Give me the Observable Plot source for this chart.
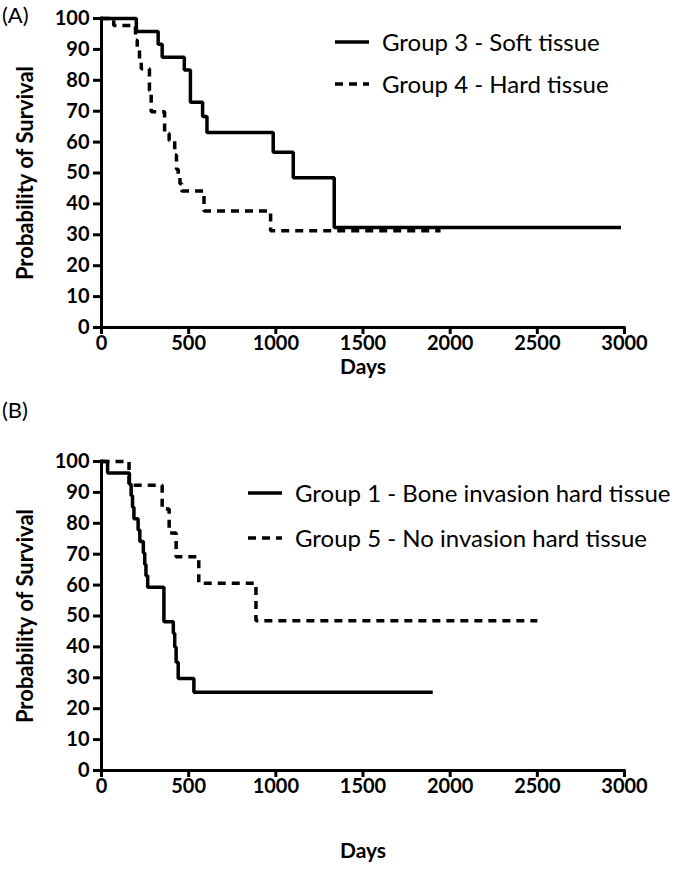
<!DOCTYPE html>
<html><head><meta charset="utf-8">
<script src="https://cdn.jsdelivr.net/npm/d3@7"></script>
<script src="https://cdn.jsdelivr.net/npm/@observablehq/plot@0.6"></script>
<style>
body{margin:0;background:#fff;}
#wrap{position:relative;width:684px;height:883px;background:#fff;font-family:Lato,"Open Sans",sans-serif;color:#000;overflow:hidden;}
.panel{position:absolute;left:0;}
.tag{position:absolute;left:2px;font-size:22px;line-height:1;}
.leg{position:absolute;font-size:24px;line-height:1;white-space:nowrap;display:flex;align-items:center;}
.leg svg{margin-right:13px;}
</style></head>
<body><div id="wrap"></div>
<script>
// ---- data ----
const xTicks = [0, 500, 1000, 1500, 2000, 2500, 3000];
const yTicks = [0, 10, 20, 30, 40, 50, 60, 70, 80, 90, 100];

// Panel A – Group 3 (soft tissue)
const g3Days = [0, 200, 325, 348, 475, 510, 580, 605, 985, 1100, 1335, 2980];
const g3Surv = [100, 95.8, 91.7, 87.5, 83.3, 72.9, 68.3, 63.1, 56.7, 48.5, 32.4, 32.4];
// Panel A – Group 4 (hard tissue)
const g4Days = [0, 70, 195, 205, 218, 228, 275, 285, 362, 388, 420, 430, 440, 450, 460, 588, 970, 1945];
const g4Surv = [100, 97.7, 93.0, 90.7, 86.0, 83.7, 76.7, 69.8, 62.8, 60.5, 55.8, 51.2, 48.8, 46.5, 44.2, 37.7, 31.3, 31.3];
// Panel B – Group 1 (bone invasion hard tissue)
const g1Days = [0, 35, 160, 170, 178, 186, 210, 220, 240, 248, 255, 265, 358, 412, 420, 428, 440, 530, 1900];
const g1Surv = [100, 96.3, 92.6, 88.9, 85.2, 81.5, 77.8, 74.1, 70.4, 66.7, 63.0, 59.3, 48.1, 44.4, 40.0, 35.0, 29.8, 25.3, 25.3];
// Panel B – Group 5 (no invasion hard tissue)
const g5Days = [0, 158, 348, 388, 428, 558, 886, 2500];
const g5Surv = [100, 92.3, 84.6, 76.9, 69.2, 60.6, 48.5, 48.5];

const panels = [
  {tag: "(A)", svgTop: 0, svgHeight: 400, mTop: 18, mBottom: 73, daysDy: 46, tagTop: 4,
   series: [
     {name: "Group 3 - Soft tissue", days: g3Days, surv: g3Surv, dash: null},
     {name: "Group 4 - Hard tissue", days: g4Days, surv: g4Surv, dash: "8,6"}],
   legLeft: 335, legRows: [42, 84]},
  {tag: "(B)", svgTop: 420, svgHeight: 463, mTop: 41, mBottom: 113, daysDy: 87, tagTop: 399,
   series: [
     {name: "Group 1 - Bone invasion hard tissue", days: g1Days, surv: g1Surv, dash: null},
     {name: "Group 5 - No invasion hard tissue", days: g5Days, surv: g5Surv, dash: "8,6"}],
   legLeft: 248, legRows: [493, 538]}
];

const wrap = document.getElementById("wrap");
const LW = 3.5;
const FONT = "Lato, 'Open Sans', sans-serif";

for (const p of panels) {
  const lineMarks = p.series.map(s => {
    const rows = s.days.map((d, i) => ({day: d, surv: s.surv[i]}));
    return Plot.line(rows, {x: "day", y: "surv", curve: "step-after", stroke: "#000",
      strokeWidth: LW, strokeDasharray: s.dash, strokeLinejoin: "miter", strokeLinecap: "butt"});
  });
  const chart = Plot.plot({
    width: 684, height: p.svgHeight,
    marginLeft: 101, marginRight: 60, marginTop: p.mTop, marginBottom: p.mBottom,
    style: {fontFamily: FONT, fontSize: "20px", fontWeight: "bold", color: "#000", background: "#fff", overflow: "visible"},
    x: {domain: [0, 3000]},
    y: {domain: [0, 100]},
    marks: [
      Plot.axisX({ticks: xTicks, tickFormat: d => String(d), tickSize: 7, tickPadding: 1, strokeWidth: 3, label: null, fontWeight: "bold", fontSize: 20}),
      Plot.axisY({ticks: yTicks, tickFormat: d => String(d), tickSize: 8, tickPadding: 4, strokeWidth: 3, label: null, fontWeight: "bold", fontSize: 20}),
      Plot.ruleY([0], {strokeWidth: 3, strokeLinecap: "square"}),
      Plot.ruleX([0], {strokeWidth: 3, strokeLinecap: "square"}),
      ...lineMarks,
      Plot.text(["Days"], {text: d => d, frameAnchor: "bottom", dy: p.daysDy, fontSize: 21, fontWeight: "bold"}),
      Plot.text(["Probability of Survival"], {text: d => d, frameAnchor: "left", textAnchor: "middle", dx: -76, rotate: -90, fontSize: 22, fontWeight: "bold"})
    ]
  });
  chart.classList.add("panel");
  chart.style.top = p.svgTop + "px";
  wrap.appendChild(chart);

  const tag = document.createElement("div");
  tag.className = "tag";
  tag.style.top = p.tagTop + "px";
  tag.textContent = p.tag;
  wrap.appendChild(tag);

  p.series.forEach((s, i) => {
    const leg = document.createElement("div");
    leg.className = "leg";
    leg.style.left = p.legLeft + "px";
    leg.style.top = (p.legRows[i] - 14) + "px";
    leg.style.height = "28px";
    const ns = "http://www.w3.org/2000/svg";
    const svg = document.createElementNS(ns, "svg");
    svg.setAttribute("width", 34); svg.setAttribute("height", 28);
    const ln = document.createElementNS(ns, "line");
    ln.setAttribute("x1", 0); ln.setAttribute("x2", 34);
    ln.setAttribute("y1", 14); ln.setAttribute("y2", 14);
    ln.setAttribute("stroke", "#000"); ln.setAttribute("stroke-width", LW);
    if (s.dash) ln.setAttribute("stroke-dasharray", s.dash);
    svg.appendChild(ln);
    leg.appendChild(svg);
    const t = document.createElement("span");
    t.textContent = s.name;
    leg.appendChild(t);
    wrap.appendChild(leg);
  });
}
</script></body></html>
